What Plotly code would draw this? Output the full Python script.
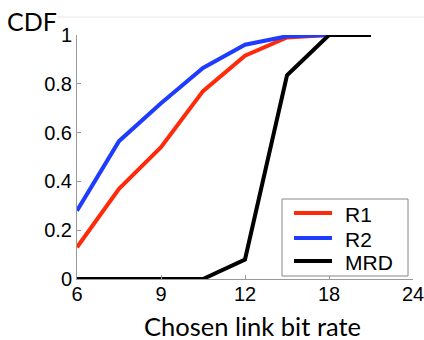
import plotly.graph_objects as go

# x positions are indices on an ordinal-spaced axis (tick labels 6, 9, 12, 18, 24)
x_pos = [0, 0.5, 1, 1.5, 2, 2.5, 3, 3.5]
tick_pos = [0, 1, 2, 3, 4]
tick_labels = ["6", "9", "12", "18", "24"]

r1 = [0.13, 0.37, 0.54, 0.77, 0.915, 0.99, 1.0, 1.0]
r2 = [0.28, 0.565, 0.72, 0.865, 0.96, 0.995, 1.0, 1.0]
mrd = [0.0, 0.0, 0.0, 0.0, 0.08, 0.835, 1.0, 1.0]

series = [("R1", r1, "#ff2a0a"), ("R2", r2, "#1e3cff"), ("MRD", mrd, "#000000")]

W, H = 424, 340
ML, MR, MT, MB = 77, 11, 35, 61
pw = W - ML - MR
ph = H - MT - MB


def px(xp):
    return (xp - ML) / pw


def py(yp):
    return (H - MB - yp) / ph


fig = go.Figure()
for name, ys, col in series:
    fig.add_trace(go.Scatter(x=x_pos, y=ys, mode="lines", name=name,
                             line=dict(color=col, width=4), showlegend=False))

axis_font = dict(family="Liberation Sans, Arial", size=20, color="black")
annotations = [
    dict(text="CDF", x=px(5), y=py(21), xref="paper", yref="paper", showarrow=False,
         font=dict(family="Lato, Open Sans", size=25, color="black"),
         xanchor="left", yanchor="middle"),
    dict(text="Chosen link bit rate", x=px(252), y=py(326), xref="paper", yref="paper",
         showarrow=False, font=dict(family="Lato, Open Sans", size=25.5, color="black"),
         xanchor="center", yanchor="middle"),
]
shapes = [
    dict(type="line", xref="paper", yref="paper", x0=px(57), x1=px(424),
         y0=py(17), y1=py(17), line=dict(color="#e8e8e8", width=1)),
    dict(type="rect", xref="paper", yref="paper", x0=px(282), x1=px(408),
         y0=py(276), y1=py(199), line=dict(color="#888888", width=1),
         fillcolor="white", layer="above"),
]
leg_y = [213, 238, 261]
for (name, ys, col), ly in zip(series, leg_y):
    shapes.append(dict(type="line", xref="paper", yref="paper", x0=px(294), x1=px(332),
                       y0=py(ly), y1=py(ly), line=dict(color=col, width=4),
                       layer="above"))
    annotations.append(dict(text=name, x=px(343), y=py(ly + 1), xref="paper", yref="paper",
                            showarrow=False, xanchor="left", yanchor="middle",
                            font=dict(family="Liberation Sans, Arial", size=21,
                                      color="black")))

fig.update_layout(
    width=W, height=H,
    margin=dict(l=ML, r=MR, t=MT, b=MB, autoexpand=False),
    paper_bgcolor="white", plot_bgcolor="white",
    showlegend=False,
    xaxis=dict(range=[0, 4], tickmode="array", tickvals=tick_pos, ticktext=tick_labels,
               showgrid=False, zeroline=False, showline=True, linecolor="#999999",
               linewidth=1, ticks="inside", ticklen=4, tickcolor="#999999",
               tickfont=axis_font, ticklabeloverflow="allow", automargin=False,
               ticklabelstandoff=-3),
    yaxis=dict(range=[0, 1], tickmode="array", tickvals=[0, 0.2, 0.4, 0.6, 0.8, 1],
               ticktext=["0", "0.2", "0.4", "0.6", "0.8", "1"],
               showgrid=False, zeroline=False, showline=True, linecolor="#999999",
               linewidth=1, ticks="inside", ticklen=4, tickcolor="#999999",
               tickfont=axis_font, ticklabeloverflow="allow", automargin=False),
    annotations=annotations,
    shapes=shapes,
)

fig.write_html("out.html")
